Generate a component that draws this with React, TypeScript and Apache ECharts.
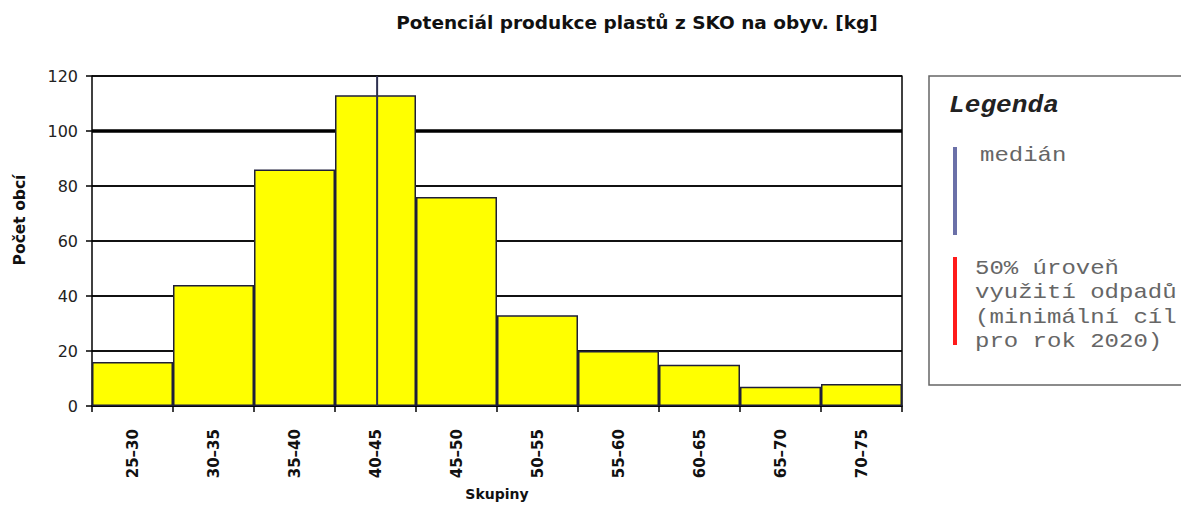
import React, { useEffect, useRef } from "react";
import * as echarts from "echarts";

const categories = ["25–30", "30–35", "35–40", "40–45", "45–50", "50–55", "55–60", "60–65", "65–70", "70–75"];
const counts = [16, 44, 86, 113, 76, 33, 20, 15, 7, 8];
const rangeMin = 25;
const rangeMax = 75;
const yMax = 120;
const yStep = 20;
const medianValue = 42.6;
const boldGridValue = 100;
const titleText = "Potenciál produkce plastů z SKO na obyv. [kg]";
const yName = "Počet obcí";
const xName = "Skupiny";
const legendTitle = "Legenda";
const legendMedian = "medián";
const legendTarget = ["50% úroveň", "využití odpadů", "(minimální cíl", "pro rok 2020)"];

export default function App() {
  const ref = useRef<HTMLDivElement>(null);
  useEffect(() => {
    if (!ref.current) return;
    const chart = echarts.init(ref.current, null, { renderer: "svg" });
    const mono = "'Liberation Mono', 'DejaVu Sans Mono', monospace";
    chart.setOption({
      animation: false,
      backgroundColor: "#ffffff",
      grid: { left: 92, right: 279, top: 76, bottom: 98, containLabel: false },
      xAxis: [
        {
          type: "category",
          data: categories,
          boundaryGap: true,
          name: xName,
          nameLocation: "middle",
          nameGap: 81,
          nameTextStyle: { fontFamily: "DejaVu Sans", fontWeight: "bold", fontSize: 14, color: "#111" },
          axisLine: { show: true, lineStyle: { color: "#000", width: 1.5 } },
          axisTick: { show: true, length: 6, lineStyle: { color: "#000", width: 1.5 } },
          axisLabel: { rotate: 90, margin: 23, fontFamily: "DejaVu Sans", fontWeight: "bold", fontSize: 15, color: "#111" },
          splitLine: { show: false },
        },
        { type: "value", min: rangeMin, max: rangeMax, show: false },
      ],
      yAxis: [
        {
          type: "value",
          min: 0,
          max: yMax,
          interval: yStep,
          axisLine: { show: true, lineStyle: { color: "#000", width: 1.5 } },
          axisTick: { show: true, length: 6, lineStyle: { color: "#000", width: 1.5 } },
          axisLabel: { margin: 14, fontFamily: "DejaVu Sans", fontSize: 16, color: "#222" },
          splitLine: { show: true, lineStyle: { color: "#111", width: 2 } },
        },
        {
          type: "value",
          min: 0,
          max: yMax,
          interval: yStep,
          position: "right",
          axisLine: { show: true, lineStyle: { color: "#000", width: 1.5 } },
          axisTick: { show: false },
          axisLabel: { show: false },
          splitLine: { show: false },
        },
      ],
      series: [
        {
          type: "line",
          xAxisIndex: 1,
          yAxisIndex: 0,
          data: [[rangeMin, boldGridValue], [rangeMax, boldGridValue]],
          symbol: "none",
          lineStyle: { color: "#000", width: 3.5 },
          z: 1,
          silent: true,
        },
        {
          type: "bar",
          data: counts,
          barWidth: "100%",
          itemStyle: { color: "#ffff00", borderColor: "#1e1e3a", borderWidth: 1.5 },
          z: 3,
        },
        {
          type: "line",
          xAxisIndex: 1,
          yAxisIndex: 0,
          data: [[medianValue, 0], [medianValue, yMax]],
          symbol: "none",
          lineStyle: { color: "#2e3050", width: 2 },
          z: 4,
          silent: true,
        },
      ],
      graphic: [
        {
          type: "text",
          x: 637,
          y: 22,
          style: { text: titleText, fontFamily: "DejaVu Sans", fontWeight: "bold", fontSize: 18.5, fill: "#111", textAlign: "center", textVerticalAlign: "middle" },
        },
        {
          type: "text",
          x: 20,
          y: 220,
          rotation: Math.PI / 2,
          style: { text: yName, fontFamily: "DejaVu Sans", fontWeight: "bold", fontSize: 15.5, fill: "#111", textAlign: "center", textVerticalAlign: "middle" },
        },
        {
          type: "rect",
          shape: { x: 929, y: 76, width: 270, height: 309 },
          style: { fill: "#ffffff", stroke: "#666", lineWidth: 1.5 },
        },
        {
          type: "text",
          x: 949,
          y: 106,
          scaleX: 1.09,
          style: { text: legendTitle, fontFamily: mono, fontWeight: "bold", fontStyle: "italic", fontSize: 24, fill: "#222", textAlign: "left", textVerticalAlign: "middle" },
        },
        {
          type: "line",
          shape: { x1: 955, y1: 147, x2: 955, y2: 235 },
          style: { stroke: "#6b70a8", lineWidth: 4 },
        },
        {
          type: "text",
          x: 980,
          y: 155,
          scaleX: 1.143,
          style: { text: legendMedian, fontFamily: mono, fontSize: 21, fill: "#666", textAlign: "left", textVerticalAlign: "middle" },
        },
        {
          type: "line",
          shape: { x1: 955, y1: 257, x2: 955, y2: 345 },
          style: { stroke: "#ff1a1a", lineWidth: 4 },
        },
        ...legendTarget.map((t, i) => ({
          type: "text",
          x: 975,
          y: 268 + i * 24.5,
          scaleX: 1.143,
          style: { text: t, fontFamily: mono, fontSize: 21, fill: "#666", textAlign: "left", textVerticalAlign: "middle" },
        })),
      ],
    });
    return () => chart.dispose();
  }, []);
  return <div ref={ref} style={{ position: "fixed", left: 0, top: 0, width: 1181, height: 506 }} />;
}
